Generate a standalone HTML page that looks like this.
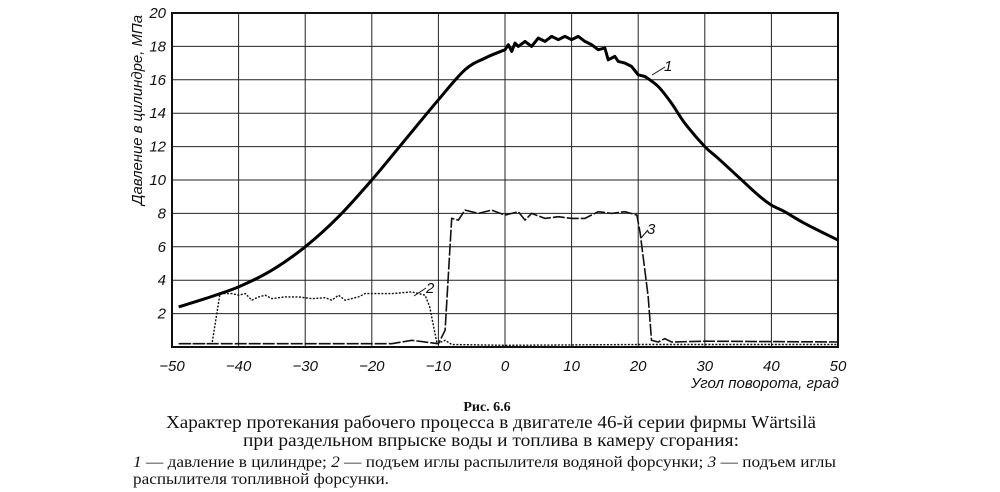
<!DOCTYPE html>
<html><head><meta charset="utf-8"><style>
html,body{margin:0;padding:0;background:#fff;width:1000px;height:492px;overflow:hidden}
svg{display:block}
.t{font-family:"Liberation Sans","DejaVu Sans",sans-serif;font-style:italic;font-size:15px;fill:#111}
.c{font-family:"Liberation Serif","DejaVu Serif",serif;fill:#111}
</style></head><body>
<svg id="s" width="1000" height="492" xmlns="http://www.w3.org/2000/svg">
<g id="grid" stroke="#222" stroke-width="1"></g>
<rect x="172" y="13" width="666" height="334" fill="none" stroke="#111" stroke-width="2"/>
<g id="lab"></g>
<path id="c2" fill="none" stroke="#111" stroke-width="1.4" stroke-dasharray="2,1.5"/>
<path id="c3" fill="none" stroke="#111" stroke-width="1.6" stroke-dasharray="12,2"/>
<path id="c1" fill="none" stroke="#000" stroke-width="3" stroke-linejoin="round"/>
<line x1="414" y1="296" x2="426" y2="288" stroke="#111" stroke-width="1"/>
<text class="t" x="426" y="293">2</text>
<line x1="652" y1="75" x2="665" y2="67" stroke="#111" stroke-width="1"/>
<text class="t" x="664" y="71">1</text>
<line x1="641" y1="238" x2="648" y2="230" stroke="#111" stroke-width="1"/>
<text class="t" x="647" y="234">3</text>
<text class="t" x="0" y="0" transform="translate(142,205) rotate(-90)" textLength="190" lengthAdjust="spacingAndGlyphs">Давление в цилиндре, МПа</text>
<text class="t" x="691" y="388" textLength="148" lengthAdjust="spacingAndGlyphs">Угол поворота, град</text>
<text class="c" x="487" y="411" text-anchor="middle" font-size="14" font-weight="bold">Рис. 6.6</text>
<text class="c" x="166" y="428" font-size="18" textLength="650" lengthAdjust="spacingAndGlyphs">Характер протекания рабочего процесса в двигателе 46-й серии фирмы Wärtsilä</text>
<text class="c" x="243" y="446" font-size="18" textLength="496" lengthAdjust="spacingAndGlyphs">при раздельном впрыске воды и топлива в камеру сгорания:</text>
<text class="c" x="133" y="467" font-size="15.5" textLength="703" lengthAdjust="spacingAndGlyphs"><tspan font-style="italic">1</tspan> — давление в цилиндре; <tspan font-style="italic">2</tspan> — подъем иглы распылителя водяной форсунки; <tspan font-style="italic">3</tspan> — подъем иглы</text>
<text class="c" x="133" y="484" font-size="15.5" textLength="256" lengthAdjust="spacingAndGlyphs">распылителя топливной форсунки.</text>
</svg>
<script>
var X=function(v){return 505+6.66*v},Y=function(p){return 347-16.7*p};
var g=document.getElementById('grid'),l=document.getElementById('lab'),ns="http://www.w3.org/2000/svg";
function el(p,tag,a,txt){var e=document.createElementNS(ns,tag);for(var k in a)e.setAttribute(k,a[k]);if(txt!=null)e.textContent=txt;p.appendChild(e);}
for(var v=-40;v<=40;v+=10)el(g,'line',{x1:X(v),x2:X(v),y1:13,y2:347});
for(var p=2;p<=18;p+=2)el(g,'line',{x1:172,x2:838,y1:Y(p),y2:Y(p)});
for(var v=-50;v<=50;v+=10)el(l,'text',{'class':'t',x:X(v),y:371,'text-anchor':'middle'},v<0?'−'+(-v):''+v);
for(var p=2;p<=20;p+=2)el(l,'text',{'class':'t',x:166,y:Y(p)+5,'text-anchor':'end'},''+p);
function path(id,pts){var d='';pts.forEach(function(q,i){d+=(i?'L':'M')+X(q[0]).toFixed(1)+','+Y(q[1]).toFixed(1)});document.getElementById(id).setAttribute('d',d);}
function spline(id,pts){var P=pts.map(function(q){return [X(q[0]),Y(q[1])]});var d='M'+P[0][0].toFixed(1)+','+P[0][1].toFixed(1);
for(var i=0;i<P.length-1;i++){var p0=P[i-1]||P[i],p1=P[i],p2=P[i+1],p3=P[i+2]||p2;
var c1=[p1[0]+(p2[0]-p0[0])/6,p1[1]+(p2[1]-p0[1])/6],c2=[p2[0]-(p3[0]-p1[0])/6,p2[1]-(p3[1]-p1[1])/6];
d+='C'+c1[0].toFixed(1)+','+c1[1].toFixed(1)+' '+c2[0].toFixed(1)+','+c2[1].toFixed(1)+' '+p2[0].toFixed(1)+','+p2[1].toFixed(1);}
document.getElementById(id).setAttribute('d',d);}
var smooth1=[[-49,2.4],[-45,2.9],[-40,3.6],[-35,4.6],[-30,6],[-25,7.8],[-20,10],[-15,12.4],[-10,14.8],[-6,16.6],[-3,17.3],[0,17.8]];
var jag=[[0.5,18.1],[1,17.7],[1.5,18.2],[2,18.0],[3,18.3],[4,18.0],[5,18.5],[6,18.3],[7,18.6],[8,18.4],[9,18.6],[10,18.4],[11,18.6],[12,18.3],[13,18.1],[14,17.8],[15,17.9],[15.5,17.2],[16.5,17.4],[17,17.1],[18,17.0],[19,16.8],[20,16.3],[21,16.2]];
var tail=[[21,16.2],[23,15.6],[25,14.6],[27,13.4],[30,12.0],[32,11.3],[35,10.2],[38,9.1],[40,8.5],[42,8.1],[45,7.4],[50,6.4]];
(function(){spline('c1',smooth1);var e=document.getElementById('c1'),d=e.getAttribute('d');
jag.forEach(function(q){d+='L'+X(q[0]).toFixed(1)+','+Y(q[1]).toFixed(1)});
var P=tail.map(function(q){return [X(q[0]),Y(q[1])]});
for(var i=0;i<P.length-1;i++){var p0=P[i-1]||P[i],p1=P[i],p2=P[i+1],p3=P[i+2]||p2;
d+='C'+(p1[0]+(p2[0]-p0[0])/6).toFixed(1)+','+(p1[1]+(p2[1]-p0[1])/6).toFixed(1)+' '+(p2[0]-(p3[0]-p1[0])/6).toFixed(1)+','+(p2[1]-(p3[1]-p1[1])/6).toFixed(1)+' '+p2[0].toFixed(1)+','+p2[1].toFixed(1);}
e.setAttribute('d',d);})();
path('c2',[[-49,0.2],[-44,0.2],[-42.8,3.2],[-41,3.2],[-40,3.1],[-39,3.2],[-38,2.8],[-37,3.0],[-36,3.1],[-35,2.9],[-33,3.0],[-31,3.0],[-29,2.9],[-27,2.95],[-26,2.8],[-25,3.1],[-24,2.8],[-22,3.0],[-21,3.2],[-19,3.2],[-17,3.2],[-14,3.3],[-12,3.1],[-11.3,2.4],[-10.7,1.2],[-10.2,0.2],[-9,0.4],[-8,0.15],[0,0.1],[20,0.15],[50,0.15]]);
path('c3',[[-49,0.2],[-17,0.2],[-14,0.4],[-10,0.2],[-9,1],[-8,7.7],[-7,7.6],[-6,8.2],[-4,8.0],[-2,8.2],[0,7.9],[2,8.1],[3,7.6],[4,8.0],[6,7.7],[8,7.8],[10,7.7],[12,7.7],[14,8.1],[16,8.0],[18,8.1],[19.8,7.9],[20.3,6.8],[21.5,3.0],[22,0.4],[23,0.3],[24,0.5],[25,0.3],[30,0.35],[50,0.3]]);
</script>
</body></html>
